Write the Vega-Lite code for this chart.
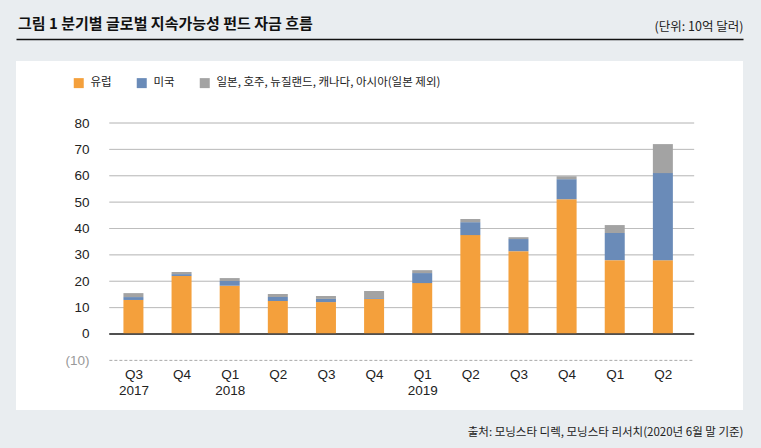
{
  "$schema": "https://vega.github.io/schema/vega-lite/v6.json",
  "width": 727,
  "height": 349,
  "autosize": {"type": "none"},
  "padding": {"left": 16, "top": 61, "right": 18, "bottom": 38},
  "background": "#e9edf0",
  "title": {
    "text": "그림 1   분기별 글로벌 지속가능성 펀드 자금 흐름",
    "anchor": "start",
    "frame": "group",
    "font": "Noto Sans CJK KR",
    "fontSize": 15,
    "fontWeight": "bold",
    "color": "#111111",
    "dx": 2,
    "dy": 16
  },
  "config": {
    "view": {"fill": "#ffffff", "stroke": null},
    "axis": {"labelFont": "Liberation Sans Narrow, Liberation Sans", "titleFont": "Noto Sans CJK KR"},
    "axisY": {
      "title": null,
      "labelColor": {"condition": {"test": "datum.value < 0", "value": "#999999"}, "value": "#222222"},
      "labelFontSize": 13.5,
      "labelPadding": 3,
      "offset": -76,
      "domain": false,
      "ticks": false,
      "grid": false
    },
    "legend": {
      "orient": "none",
      "legendX": 57,
      "legendY": 16,
      "direction": "horizontal",
      "symbolType": "square",
      "symbolSize": 100,
      "symbolStrokeWidth": 0,
      "labelFont": "Noto Sans CJK KR",
      "labelFontSize": 11.5,
      "labelColor": "#222222",
      "labelOffset": 6,
      "labelLimit": 400,
      "columnPadding": 24,
      "padding": 0,
      "title": null
    }
  },
  "datasets": {
    "funds": [
      {"quarter": "Q3 2017", "idx": 0, "region": "유럽", "ord": 1, "value": 12.9},
      {"quarter": "Q3 2017", "idx": 0, "region": "미국", "ord": 2, "value": 1.1},
      {"quarter": "Q3 2017", "idx": 0, "region": "일본, 호주, 뉴질랜드, 캐나다, 아시아(일본 제외)", "ord": 3, "value": 1.5},
      {"quarter": "Q4 2017", "idx": 1, "region": "유럽", "ord": 1, "value": 22.0},
      {"quarter": "Q4 2017", "idx": 1, "region": "미국", "ord": 2, "value": 0.7},
      {"quarter": "Q4 2017", "idx": 1, "region": "일본, 호주, 뉴질랜드, 캐나다, 아시아(일본 제외)", "ord": 3, "value": 0.8},
      {"quarter": "Q1 2018", "idx": 2, "region": "유럽", "ord": 1, "value": 18.3},
      {"quarter": "Q1 2018", "idx": 2, "region": "미국", "ord": 2, "value": 1.8},
      {"quarter": "Q1 2018", "idx": 2, "region": "일본, 호주, 뉴질랜드, 캐나다, 아시아(일본 제외)", "ord": 3, "value": 1.1},
      {"quarter": "Q2 2018", "idx": 3, "region": "유럽", "ord": 1, "value": 12.5},
      {"quarter": "Q2 2018", "idx": 3, "region": "미국", "ord": 2, "value": 1.5},
      {"quarter": "Q2 2018", "idx": 3, "region": "일본, 호주, 뉴질랜드, 캐나다, 아시아(일본 제외)", "ord": 3, "value": 1.2},
      {"quarter": "Q3 2018", "idx": 4, "region": "유럽", "ord": 1, "value": 12.1},
      {"quarter": "Q3 2018", "idx": 4, "region": "미국", "ord": 2, "value": 1.2},
      {"quarter": "Q3 2018", "idx": 4, "region": "일본, 호주, 뉴질랜드, 캐나다, 아시아(일본 제외)", "ord": 3, "value": 1.1},
      {"quarter": "Q4 2018", "idx": 5, "region": "유럽", "ord": 1, "value": 13.3},
      {"quarter": "Q4 2018", "idx": 5, "region": "미국", "ord": 2, "value": 0.3},
      {"quarter": "Q4 2018", "idx": 5, "region": "일본, 호주, 뉴질랜드, 캐나다, 아시아(일본 제외)", "ord": 3, "value": 2.7},
      {"quarter": "Q1 2019", "idx": 6, "region": "유럽", "ord": 1, "value": 19.3},
      {"quarter": "Q1 2019", "idx": 6, "region": "미국", "ord": 2, "value": 3.8},
      {"quarter": "Q1 2019", "idx": 6, "region": "일본, 호주, 뉴질랜드, 캐나다, 아시아(일본 제외)", "ord": 3, "value": 1.1},
      {"quarter": "Q2 2019", "idx": 7, "region": "유럽", "ord": 1, "value": 37.5},
      {"quarter": "Q2 2019", "idx": 7, "region": "미국", "ord": 2, "value": 4.9},
      {"quarter": "Q2 2019", "idx": 7, "region": "일본, 호주, 뉴질랜드, 캐나다, 아시아(일본 제외)", "ord": 3, "value": 1.2},
      {"quarter": "Q3 2019", "idx": 8, "region": "유럽", "ord": 1, "value": 31.4},
      {"quarter": "Q3 2019", "idx": 8, "region": "미국", "ord": 2, "value": 4.6},
      {"quarter": "Q3 2019", "idx": 8, "region": "일본, 호주, 뉴질랜드, 캐나다, 아시아(일본 제외)", "ord": 3, "value": 0.7},
      {"quarter": "Q4 2019", "idx": 9, "region": "유럽", "ord": 1, "value": 51.1},
      {"quarter": "Q4 2019", "idx": 9, "region": "미국", "ord": 2, "value": 7.6},
      {"quarter": "Q4 2019", "idx": 9, "region": "일본, 호주, 뉴질랜드, 캐나다, 아시아(일본 제외)", "ord": 3, "value": 1.1},
      {"quarter": "Q1 2020", "idx": 10, "region": "유럽", "ord": 1, "value": 28.0},
      {"quarter": "Q1 2020", "idx": 10, "region": "미국", "ord": 2, "value": 10.3},
      {"quarter": "Q1 2020", "idx": 10, "region": "일본, 호주, 뉴질랜드, 캐나다, 아시아(일본 제외)", "ord": 3, "value": 3.0},
      {"quarter": "Q2 2020", "idx": 11, "region": "유럽", "ord": 1, "value": 28.0},
      {"quarter": "Q2 2020", "idx": 11, "region": "미국", "ord": 2, "value": 33.0},
      {"quarter": "Q2 2020", "idx": 11, "region": "일본, 호주, 뉴질랜드, 캐나다, 아시아(일본 제외)", "ord": 3, "value": 11.0}
    ],
    "grid": [
      {"v": -10}, {"v": 0}, {"v": 10}, {"v": 20}, {"v": 30}, {"v": 40}, {"v": 50}, {"v": 60}, {"v": 70}, {"v": 80}
    ]
  },
  "layer": [
    {
      "data": {"name": "grid"},
      "mark": {"type": "rule"},
      "encoding": {
        "x": {
          "datum": -0.5,
          "type": "quantitative",
          "scale": {"domain": [-2.336, 12.561], "nice": false, "zero": false},
          "axis": {
            "orient": "top",
            "offset": 22,
            "domain": true,
            "domainColor": "#111111",
            "domainWidth": 1.5,
            "labels": false,
            "ticks": false,
            "grid": false,
            "title": "(단위: 10억 달러)",
            "titleAnchor": "end",
            "titleAlign": "right",
            "titleFontSize": 12.5,
            "titleFontWeight": "normal",
            "titleColor": "#222222",
            "titlePadding": 6
          }
        },
        "x2": {"datum": 11.65},
        "y": {
          "field": "v",
          "type": "quantitative",
          "scale": {"domain": [-28.82, 103.51], "nice": false, "zero": false},
          "axis": {
            "title": null,
            "values": [-10, 0, 10, 20, 30, 40, 50, 60, 70, 80],
            "labelExpr": "datum.value < 0 ? '(10)' : datum.label"
          }
        },
        "color": {"condition": {"test": "datum.v === 0", "value": "#444444"}, "value": "#a8a8a8"},
        "strokeDash": {"condition": {"test": "datum.v < 0", "value": [3, 2]}, "value": [1, 0]},
        "strokeWidth": {"condition": {"test": "datum.v === 0", "value": 1.3}, "value": 1}
      }
    },
    {
      "data": {"name": "funds"},
      "mark": {"type": "bar", "width": 20},
      "encoding": {
        "x": {
          "field": "idx",
          "type": "quantitative",
          "axis": {
            "orient": "bottom",
            "offset": -45,
            "values": [0, 1, 2, 3, 4, 5, 6, 7, 8, 9, 10, 11],
            "labelExpr": "[['Q3','2017'],['Q4'],['Q1','2018'],['Q2'],['Q3'],['Q4'],['Q1','2019'],['Q2'],['Q3'],['Q4'],['Q1'],['Q2']][datum.value]",
            "labelFontSize": 13.5,
            "labelLineHeight": 16,
            "labelColor": "#222222",
            "labelPadding": 2,
            "labelBaseline": "top",
            "domain": false,
            "ticks": false,
            "grid": false,
            "title": "출처: 모닝스타 디렉, 모닝스타 리서치(2020년 6월 말 기준)",
            "titleAnchor": "end",
            "titleAlign": "right",
            "titleFontSize": 11.5,
            "titleFontWeight": "normal",
            "titleColor": "#222222",
            "titlePadding": 30
          }
        },
        "y": {
          "field": "value",
          "type": "quantitative",
          "stack": "zero",
          "axis": {
            "title": null,
            "values": [-10, 0, 10, 20, 30, 40, 50, 60, 70, 80],
            "labelExpr": "datum.value < 0 ? '(10)' : datum.label"
          }
        },
        "color": {
          "field": "region",
          "type": "nominal",
          "scale": {
            "domain": ["유럽", "미국", "일본, 호주, 뉴질랜드, 캐나다, 아시아(일본 제외)"],
            "range": ["#f4a03c", "#6a8bb8", "#a3a3a3"]
          }
        },
        "order": {"field": "ord", "type": "quantitative", "sort": "ascending"}
      }
    },
    {
      "data": {"name": "grid"},
      "transform": [{"filter": "datum.v === 0"}],
      "mark": {"type": "rule", "color": "#444444", "strokeWidth": 1.3},
      "encoding": {
        "x": {"datum": -0.5, "type": "quantitative", "axis": null},
        "x2": {"datum": 11.65},
        "y": {
          "field": "v",
          "type": "quantitative",
          "axis": {
            "title": null,
            "values": [-10, 0, 10, 20, 30, 40, 50, 60, 70, 80],
            "labelExpr": "datum.value < 0 ? '(10)' : datum.label"
          }
        }
      }
    }
  ],
  "resolve": {"axis": {"x": "independent"}}
}
